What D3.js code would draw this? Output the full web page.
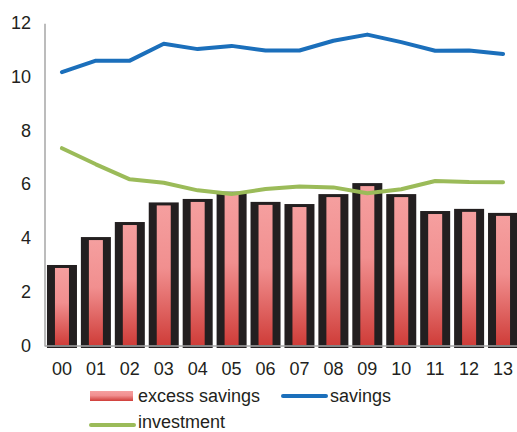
<!DOCTYPE html>
<html><head><meta charset="utf-8">
<script src="https://cdn.jsdelivr.net/npm/d3@7"></script>
<style>
html,body{margin:0;padding:0;background:#fff;}
text{font-family:"Liberation Sans",Arial,sans-serif;}
</style></head>
<body>
<svg id="chart" width="517" height="432"></svg>
<script>
const categories = ["00","01","02","03","04","05","06","07","08","09","10","11","12","13"];
const excessSavings = [2.98,4.02,4.58,5.31,5.44,5.71,5.33,5.25,5.62,6.03,5.62,4.99,5.07,4.92];
const savings = [10.16,10.59,10.59,11.22,11.02,11.14,10.97,10.97,11.33,11.56,11.28,10.96,10.97,10.84];
const investment = [7.33,6.73,6.17,6.04,5.76,5.62,5.81,5.9,5.87,5.65,5.8,6.11,6.07,6.06];
const yTicks = [0,2,4,6,8,10,12];
const legendLabels = ["excess savings","savings","investment"];

const svg = d3.select("#chart");
const x = d3.scaleBand().domain(categories).range([45,520]).paddingInner(0).paddingOuter(0);
const y = d3.scaleLinear().domain([0,12]).range([345,22.8]);

const defs = svg.append("defs");
const grad = defs.append("linearGradient").attr("id","barGrad").attr("x1",0).attr("y1",0).attr("x2",0).attr("y2",1);
grad.append("stop").attr("offset","0%").attr("stop-color","#f59f9f");
grad.append("stop").attr("offset","45%").attr("stop-color","#f18f8f");
grad.append("stop").attr("offset","100%").attr("stop-color","#cf3d39");

// black frames
const outerW = 30, innerW = 14;
svg.append("g").selectAll("rect").data(excessSavings).join("rect")
  .attr("x",(d,i)=>x(categories[i])+x.bandwidth()/2-outerW/2)
  .attr("y",d=>y(d))
  .attr("width",outerW)
  .attr("height",d=>y(0)-y(d)+3)
  .attr("fill","#231f20");
svg.append("g").selectAll("rect").data(excessSavings).join("rect")
  .attr("x",(d,i)=>x(categories[i])+x.bandwidth()/2-innerW/2)
  .attr("y",d=>y(d)+3)
  .attr("width",innerW)
  .attr("height",d=>y(0)-y(d)-3)
  .attr("fill","url(#barGrad)");

// axes
svg.append("line").attr("x1",45).attr("x2",45).attr("y1",y(12)+1).attr("y2",y(0)+1.5)
  .attr("stroke","#a6a6a6").attr("stroke-width",1.5);
svg.append("line").attr("x1",45).attr("x2",517).attr("y1",y(0)+1).attr("y2",y(0)+1)
  .attr("stroke","#a6a6a6").attr("stroke-width",1.5);

svg.append("g").selectAll("text").data(yTicks).join("text")
  .attr("x",31).attr("y",d=>y(d)+6.5).attr("text-anchor","end")
  .attr("font-size",18).attr("fill","#231f20").text(d=>d);

svg.append("g").selectAll("text").data(categories).join("text")
  .attr("x",d=>x(d)+x.bandwidth()/2).attr("y",375).attr("text-anchor","middle")
  .attr("font-size",18).attr("fill","#231f20").text(d=>d);

const line = d3.line().x((d,i)=>x(categories[i])+x.bandwidth()/2).y(d=>y(d));
svg.append("path").datum(investment).attr("d",line).attr("fill","none")
  .attr("stroke","#9bbb59").attr("stroke-width",4).attr("stroke-linejoin","round").attr("stroke-linecap","round");
svg.append("path").datum(savings).attr("d",line).attr("fill","none")
  .attr("stroke","#1b6fbb").attr("stroke-width",4).attr("stroke-linejoin","round").attr("stroke-linecap","round");

// legend
const lg = svg.append("g");
lg.append("rect").attr("x",90).attr("y",391).attr("width",43).attr("height",10).attr("fill","url(#barGrad)");
lg.append("text").attr("x",138).attr("y",402).attr("font-size",18).attr("fill","#231f20").text(legendLabels[0]);
lg.append("line").attr("x1",283).attr("x2",326).attr("y1",396).attr("y2",396).attr("stroke","#1b6fbb").attr("stroke-width",4).attr("stroke-linecap","round");
lg.append("text").attr("x",330).attr("y",402).attr("font-size",18).attr("fill","#231f20").text(legendLabels[1]);
lg.append("line").attr("x1",91).attr("x2",134).attr("y1",425).attr("y2",425).attr("stroke","#9bbb59").attr("stroke-width",4).attr("stroke-linecap","round");
lg.append("text").attr("x",138).attr("y",427.5).attr("font-size",18).attr("fill","#231f20").text(legendLabels[2]);
</script>
</body></html>
